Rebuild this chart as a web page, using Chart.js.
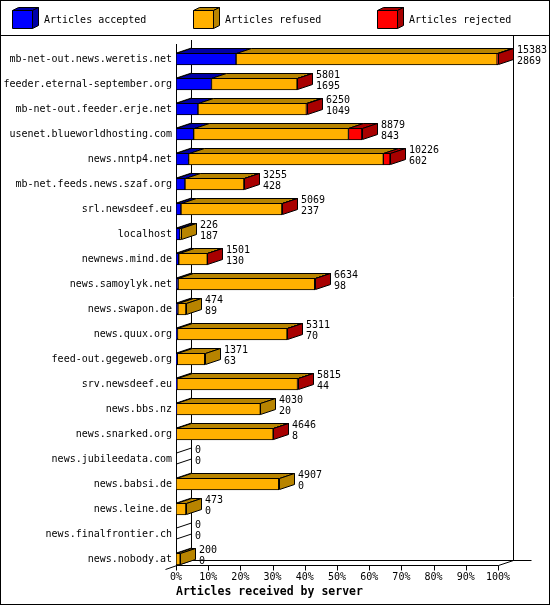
<!DOCTYPE html>
<html>
<head>
<meta charset="utf-8">
<script src="https://cdn.jsdelivr.net/npm/chart.js@4.4.1/dist/chart.umd.min.js"></script>
<style>
  html, body { margin: 0; padding: 0; background: #fff; }
  #wrap { width: 550px; height: 605px; position: relative; }
</style>
</head>
<body>
<div id="wrap"><canvas id="chart" width="550" height="605"></canvas></div>
<script>
var servers = [
  'mb-net-out.news.weretis.net', 'feeder.eternal-september.org', 'mb-net-out.feeder.erje.net',
  'usenet.blueworldhosting.com', 'news.nntp4.net', 'mb-net.feeds.news.szaf.org',
  'srl.newsdeef.eu', 'localhost', 'newnews.mind.de', 'news.samoylyk.net', 'news.swapon.de',
  'news.quux.org', 'feed-out.gegeweb.org', 'srv.newsdeef.eu', 'news.bbs.nz',
  'news.snarked.org', 'news.jubileedata.com', 'news.babsi.de', 'news.leine.de',
  'news.finalfrontier.ch', 'news.nobody.at'
];
// total articles offered (upper label) and accepted (lower label)
var offered  = [15383, 5801, 6250, 8879, 10226, 3255, 5069, 226, 1501, 6634, 474, 5311, 1371, 5815, 4030, 4646, 0, 4907, 473, 0, 200];
var accepted = [2869, 1695, 1049, 843, 602, 428, 237, 187, 130, 98, 89, 70, 63, 44, 20, 8, 0, 0, 0, 0, 0];
// rejected estimated from the red segments
var rejected = [40, 15, 20, 640, 320, 10, 10, 0, 5, 10, 0, 5, 0, 10, 0, 5, 0, 0, 0, 0, 0];
var refused = offered.map(function (v, i) { return v - accepted[i] - rejected[i]; });

var xTicks = [0, 10, 20, 30, 40, 50, 60, 70, 80, 90, 100];

var maxOffered = Math.max.apply(null, offered);
function pct(arr) {
  return arr.map(function (v) { return v / maxOffered * 100; });
}

var mono = 'DejaVu Sans Mono';
var dx = 15, dy = 5;

function line(ctx, x1, y1, x2, y2) {
  ctx.beginPath();
  ctx.moveTo(x1, y1);
  ctx.lineTo(x2, y2);
  ctx.stroke();
}
function poly(ctx, pts, fill) {
  ctx.beginPath();
  ctx.moveTo(pts[0][0], pts[0][1]);
  for (var i = 1; i < pts.length; i++) ctx.lineTo(pts[i][0], pts[i][1]);
  ctx.closePath();
  ctx.fillStyle = fill;
  ctx.fill();
  ctx.stroke();
}

var cube3d = {
  id: 'cube3d',
  beforeDatasetsDraw: function (chart) {
    var ctx = chart.ctx, xs = chart.scales.x, ys = chart.scales.y;
    var x0 = Math.round(xs.getPixelForValue(0)) + 0.5;
    var x1 = Math.round(xs.getPixelForValue(100)) + 0.5;
    var yf = Math.round(ys.getPixelForValue(servers.length - 1) + 6) + 0.5;
    ctx.save();
    ctx.strokeStyle = '#000';
    ctx.lineWidth = 1;
    line(ctx, x0, 44, x0, yf);
    line(ctx, x0 + dx, 40, x0 + dx, yf - dy);
    line(ctx, x1 + dx, 35, x1 + dx, yf - dy);
    line(ctx, x0 + dx, yf - dy, x1 + dx + 18, yf - dy);
    line(ctx, x0, yf, x1, yf);
    line(ctx, x1, yf, x1 + dx, yf - dy);
    line(ctx, x0 - 11, yf + 4, x0 + dx, yf - dy);
    xTicks.forEach(function (v) {
      var px = Math.round(xs.getPixelForValue(v)) + 0.5;
      line(ctx, px, yf, px, yf + 5);
    });
    // left wall edges for each row
    servers.forEach(function (s, i) {
      var yc = Math.round(ys.getPixelForValue(i));
      line(ctx, x0, yc - 6, x0 + dx, yc - 6 - dy);
      line(ctx, x0, yc + 5, x0 + dx, yc + 5 - dy);
    });
    ctx.restore();
  },
  afterDatasetsDraw: function (chart) {
    var ctx = chart.ctx;
    var sets = chart.data.datasets;
    ctx.save();
    ctx.strokeStyle = '#000';
    ctx.lineWidth = 1;
    ctx.lineJoin = 'miter';
    for (var i = 0; i < servers.length; i++) {
      var last = -1, lastEl = null;
      for (var d = 0; d < sets.length; d++) {
        var el = chart.getDatasetMeta(d).data[i];
        var p = el.getProps(['x', 'y', 'base', 'height'], true);
        if (!(sets[d].data[i] > 0)) continue;
        var top = Math.round(p.y - p.height / 2) + 0.5;
        var a = Math.round(p.base) + 0.5, b = Math.round(p.x) + 0.5;
        poly(ctx, [[a, top], [b, top], [b + dx, top - dy], [a + dx, top - dy]], sets[d].shade);
        last = d; lastEl = p;
      }
      if (last >= 0) {
        var t = Math.round(lastEl.y - lastEl.height / 2) + 0.5;
        var bt = Math.round(lastEl.y + lastEl.height / 2) - 0.5;
        var e = Math.round(lastEl.x) + 0.5;
        poly(ctx, [[e, t], [e + dx, t - dy], [e + dx, bt - dy], [e, bt]], sets[last].shade);
      }
    }
    ctx.restore();
  },
  afterDraw: function (chart) {
    var ctx = chart.ctx, xs = chart.scales.x, ys = chart.scales.y;
    var sets = chart.data.datasets;
    ctx.save();
    ctx.fillStyle = '#000';
    ctx.font = '10px "' + mono + '"';
    ctx.textAlign = 'left';
    ctx.textBaseline = 'middle';
    var tot = pct(offered);
    for (var i = 0; i < servers.length; i++) {
      var yc = ys.getPixelForValue(i);
      var xe = Math.round(xs.getPixelForValue(tot[i])) + dx + 4;
      ctx.fillText(String(offered[i]), xe, yc - 9);
      ctx.fillText(String(accepted[i]), xe, yc + 2);
    }
    // legend with small cubes
    ctx.strokeStyle = '#000';
    ctx.lineWidth = 1;
    var lx = [12, 193, 377];
    sets.forEach(function (s, k) {
      var x = lx[k] + 0.5, y = 10.5, w = 20, h = 18, cx = 6, cy = 3;
      poly(ctx, [[x, y], [x + w, y], [x + w + cx, y - cy], [x + cx, y - cy]], s.shade);
      poly(ctx, [[x + w, y], [x + w + cx, y - cy], [x + w + cx, y + h - cy], [x + w, y + h]], s.shade);
      poly(ctx, [[x, y], [x + w, y], [x + w, y + h], [x, y + h]], s.backgroundColor);
      ctx.fillStyle = '#000';
      ctx.fillText(s.label, lx[k] + 32, 20);
    });
    line(ctx, 0, 35.5, 550, 35.5);
    ctx.strokeRect(0.5, 0.5, 549, 604);
    ctx.restore();
  }
};

new Chart(document.getElementById('chart'), {
  type: 'bar',
  data: {
    labels: servers,
    datasets: [
      { label: 'Articles accepted', data: pct(accepted), backgroundColor: '#0000ff', shade: '#0000a8' },
      { label: 'Articles refused', data: pct(refused), backgroundColor: '#ffb000', shade: '#b88400' },
      { label: 'Articles rejected', data: pct(rejected), backgroundColor: '#ff0000', shade: '#a80000' }
    ]
  },
  options: {
    indexAxis: 'y',
    responsive: false,
    animation: false,
    layout: { padding: { top: 46.5, right: 52, left: 0, bottom: 0 } },
    datasets: { bar: { barThickness: 12, borderWidth: 1, borderColor: '#000', borderSkipped: false } },
    plugins: { legend: { display: false }, tooltip: { enabled: false } },
    scales: {
      x: {
        stacked: true, min: 0, max: 100,
        afterBuildTicks: function (s) { s.ticks = xTicks.map(function (v) { return { value: v }; }); },
        ticks: { callback: function (v) { return v + '%'; }, font: { family: mono, size: 10 }, color: '#000', padding: 0, maxRotation: 0, autoSkip: false },
        grid: { display: false, drawTicks: false },
        border: { display: false },
        title: { display: true, text: 'Articles received by server', align: 'start', color: '#000',
                 font: { family: mono, size: 11.5, weight: 'bold' }, padding: { top: 0, bottom: 6 } },
        afterFit: function (s) { s.height = 33.5; }
      },
      y: {
        stacked: true,
        ticks: { font: { family: mono, size: 10 }, color: '#000', padding: 4, autoSkip: false },
        grid: { display: false, drawTicks: false },
        border: { display: false },
        afterFit: function (s) { s.width = 176; }
      }
    }
  },
  plugins: [cube3d]
});
</script>
</body>
</html>
